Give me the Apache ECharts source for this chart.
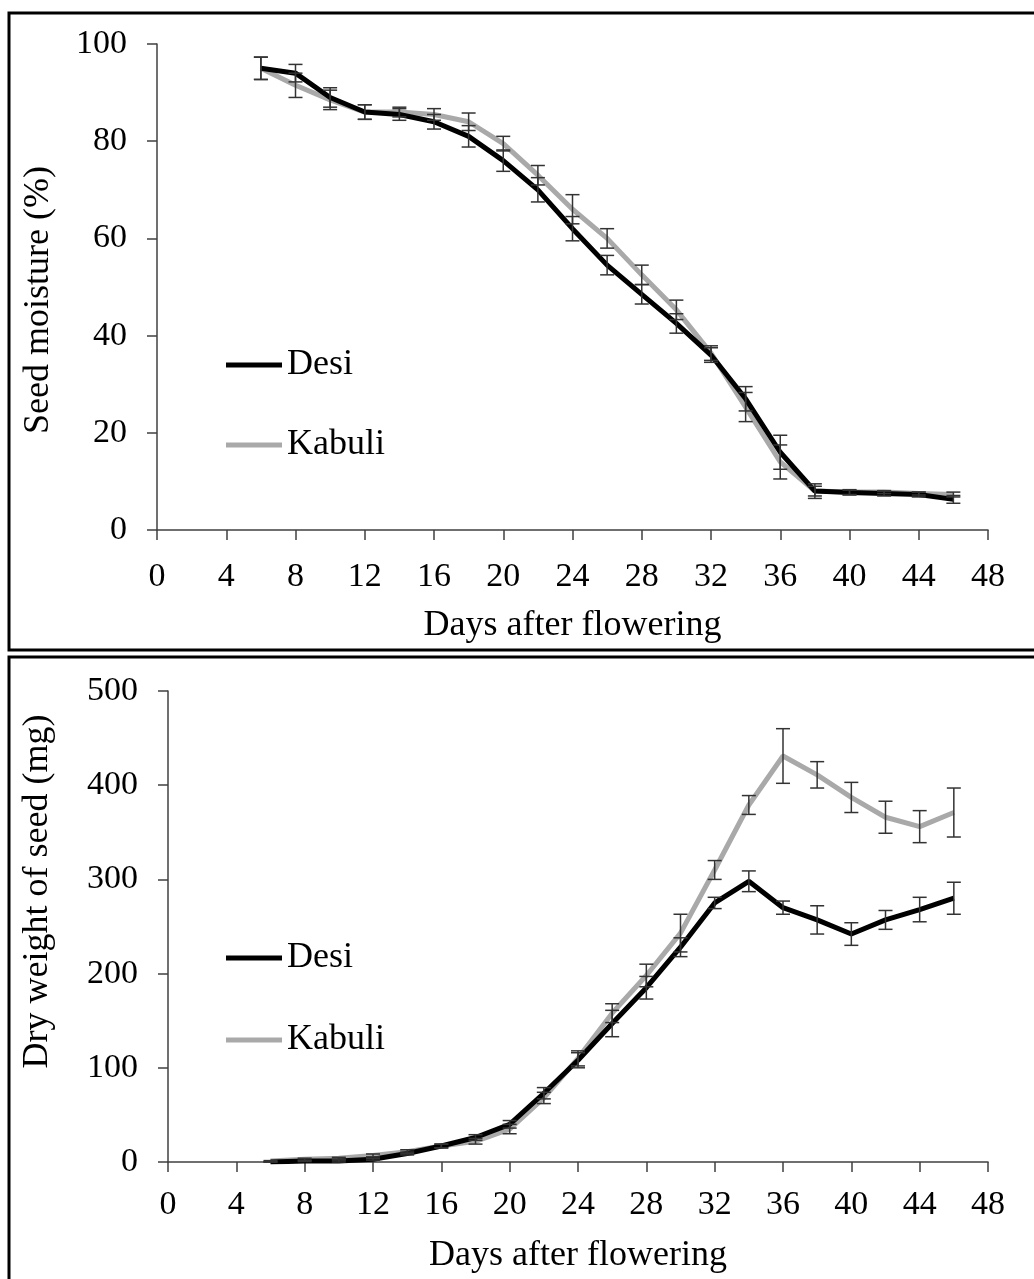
<!DOCTYPE html>
<html>
<head>
<meta charset="utf-8">
<script src="https://cdn.jsdelivr.net/npm/echarts@6/dist/echarts.min.js"></script>
<style>
html,body{margin:0;padding:0;background:#fff;}
#chart{width:1034px;height:1279px;}
</style>
</head>
<body>
<div id="chart"></div>
<script>
// ---- Data ----
var days = [6, 8, 10, 12, 14, 16, 18, 20, 22, 24, 26, 28, 30, 32, 34, 36, 38, 40, 42, 44, 46];

// Seed moisture (%)
var moistureDesi   = [95, 94, 89, 86, 85.5, 84, 81, 76, 70, 62, 54.5, 48.5, 42.5, 36, 27, 16, 8, 7.7, 7.5, 7.3, 6.3];
var moistureDesiErr = [2.3, 1.8, 2, 1.5, 1.2, 1.5, 2.2, 2.2, 2.5, 2.5, 2, 2, 2, 1.5, 2.5, 3.5, 1.5, 0.5, 0.5, 0.5, 0.8];
var moistureKabuli = [95, 91.5, 88.5, 86, 86, 85.5, 84, 79.5, 73, 66, 60, 52.5, 45.3, 36.4, 25.3, 14, 8, 7.8, 7.8, 7.5, 7.3];
var moistureKabuliErr = [2.3, 2.5, 2, 1.5, 1, 1.2, 1.8, 1.5, 2, 3, 2, 2, 2, 1.5, 3, 3.5, 1, 0.5, 0.3, 0.3, 0.5];

// Dry weight of seed (mg)
var weightDesi   = [0, 1, 1, 3, 9, 17, 26, 40, 73, 108, 147, 185, 228, 275, 298, 270, 257, 242, 257, 268, 280];
var weightDesiErr = [0, 0.5, 1, 1, 1.5, 2, 3, 4, 6, 8, 14, 12, 10, 6, 11, 7, 15, 12, 10, 13, 17];
var weightKabuli = [1, 3, 4, 7, 11, 17, 22, 35, 68, 110, 158, 198, 243, 310, 379, 431, 411, 387, 366, 356, 371];
var weightKabuliErr = [0.5, 1, 1, 1.5, 2, 2, 3, 5, 6, 8, 10, 12, 20, 10, 10, 29, 14, 16, 17, 17, 26];

var xTicks = [0, 48, 4]; // min, max, interval
var yTicksTop = [0, 100, 20];
var yTicksBottom = [0, 500, 100];

var seriesNames = ['Desi', 'Kabuli'];

// ---- Helpers ----
function pairs(vals) {
  return days.map(function (d, i) { return [d, vals[i]]; });
}
function errData(vals, errs) {
  return days.map(function (d, i) { return [d, vals[i] - errs[i], vals[i] + errs[i]]; });
}
function renderErr(params, api) {
  var x = api.value(0);
  var lo = api.coord([x, api.value(1)]);
  var hi = api.coord([x, api.value(2)]);
  var cap = 7;
  var st = { stroke: '#333', lineWidth: 1.5 };
  return {
    type: 'group',
    children: [
      { type: 'line', shape: { x1: lo[0], y1: lo[1], x2: hi[0], y2: hi[1] }, style: st },
      { type: 'line', shape: { x1: lo[0] - cap, y1: lo[1], x2: lo[0] + cap, y2: lo[1] }, style: st },
      { type: 'line', shape: { x1: hi[0] - cap, y1: hi[1], x2: hi[0] + cap, y2: hi[1] }, style: st }
    ]
  };
}

var FONT = '"Liberation Serif", "Times New Roman", serif';
var axisLineStyle = { color: '#404040', width: 1.5 };

function xAxisCfg(gridIndex, labelMargin, nameGap) {
  return {
    type: 'value', gridIndex: gridIndex,
    min: xTicks[0], max: xTicks[1], interval: xTicks[2],
    name: 'Days after flowering', nameLocation: 'middle', nameGap: nameGap,
    nameTextStyle: { fontFamily: FONT, fontSize: 36, color: '#000' },
    axisLine: { show: true, lineStyle: axisLineStyle },
    axisTick: { show: true, inside: false, length: 10, lineStyle: axisLineStyle },
    axisLabel: { fontFamily: FONT, fontSize: 34, color: '#000', margin: labelMargin },
    splitLine: { show: false }
  };
}
function yAxisCfg(gridIndex, ticks, name, nameGap, namePad) {
  return {
    type: 'value', gridIndex: gridIndex,
    min: ticks[0], max: ticks[1], interval: ticks[2],
    name: name, nameLocation: 'middle', nameGap: nameGap,
    nameTextStyle: { fontFamily: FONT, fontSize: 36, color: '#000', padding: namePad },
    axisLine: { show: true, lineStyle: axisLineStyle },
    axisTick: { show: true, inside: false, length: 10, lineStyle: axisLineStyle },
    axisLabel: { fontFamily: FONT, fontSize: 34, color: '#000', margin: 30 },
    splitLine: { show: false }
  };
}

var BLACK = '#000000';
var GRAY = '#a9a9a9';

var legendCommon = {
  orient: 'vertical', left: 221,
  icon: 'rect', itemWidth: 56, itemHeight: 5,
  textStyle: { fontFamily: FONT, fontSize: 36, color: '#000', lineHeight: 36 },
  selectedMode: false
};

var option = {
  animation: false,
  backgroundColor: '#ffffff',
  graphic: [
    { type: 'rect', shape: { x: 9, y: 13, width: 1040, height: 637 }, style: { fill: 'none', stroke: '#000', lineWidth: 3 }, z: 100 },
    { type: 'rect', shape: { x: 9, y: 657, width: 1040, height: 640 }, style: { fill: 'none', stroke: '#000', lineWidth: 3 }, z: 100 }
  ],
  grid: [
    { left: 157, right: 46, top: 44, bottom: 749 },
    { left: 168, right: 46, top: 691, bottom: 117 }
  ],
  legend: [
    Object.assign({}, legendCommon, {
      data: [{ name: 'Desi' }, { name: 'Kabuli' }],
      top: 342, itemGap: 44
    }),
    Object.assign({}, legendCommon, {
      data: [{ name: 'Desi ' }, { name: 'Kabuli ' }],
      top: 935, itemGap: 46,
      formatter: function (n) { return n.trim(); }
    })
  ],
  xAxis: [xAxisCfg(0, 30, 78), xAxisCfg(1, 26, 76)],
  yAxis: [
    yAxisCfg(0, yTicksTop, 'Seed moisture (%)', 100, [0, 26, 0, 0]),
    yAxisCfg(1, yTicksBottom, 'Dry weight of seed (mg)', 112, [0, 0, 0, 70])
  ],
  series: [
    { name: 'Desi', type: 'line', xAxisIndex: 0, yAxisIndex: 0, data: pairs(moistureDesi), symbol: 'none', lineStyle: { color: BLACK, width: 5 }, itemStyle: { color: BLACK }, z: 3 },
    { name: 'Kabuli', type: 'line', xAxisIndex: 0, yAxisIndex: 0, data: pairs(moistureKabuli), symbol: 'none', lineStyle: { color: GRAY, width: 5 }, itemStyle: { color: GRAY }, z: 2 },
    { type: 'custom', xAxisIndex: 0, yAxisIndex: 0, data: errData(moistureDesi, moistureDesiErr), renderItem: renderErr, z: 5 },
    { type: 'custom', xAxisIndex: 0, yAxisIndex: 0, data: errData(moistureKabuli, moistureKabuliErr), renderItem: renderErr, z: 5 },

    { name: 'Desi ', type: 'line', xAxisIndex: 1, yAxisIndex: 1, data: pairs(weightDesi), symbol: 'none', lineStyle: { color: BLACK, width: 5 }, itemStyle: { color: BLACK }, z: 3 },
    { name: 'Kabuli ', type: 'line', xAxisIndex: 1, yAxisIndex: 1, data: pairs(weightKabuli), symbol: 'none', lineStyle: { color: GRAY, width: 5 }, itemStyle: { color: GRAY }, z: 2 },
    { type: 'custom', xAxisIndex: 1, yAxisIndex: 1, data: errData(weightDesi, weightDesiErr), renderItem: renderErr, z: 5 },
    { type: 'custom', xAxisIndex: 1, yAxisIndex: 1, data: errData(weightKabuli, weightKabuliErr), renderItem: renderErr, z: 5 }
  ]
};

var chart = echarts.init(document.getElementById('chart'), null, { renderer: 'canvas' });
chart.setOption(option);
</script>
</body>
</html>
